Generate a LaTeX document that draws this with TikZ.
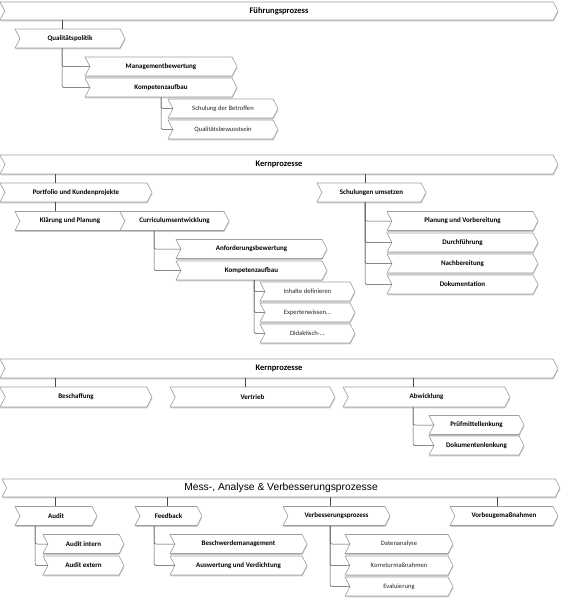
\documentclass[tikz,border=0pt]{standalone}
\usepackage{fontspec}
\setmainfont{Carlito}
\newfontfamily\arialfont{Liberation Sans}
\usetikzlibrary{shapes.symbols,shadows}

\tikzset{
  chev/.style={signal, signal from=west, signal to=east, signal pointer angle=125,
    draw=gray!75, fill=white, line width=0.6pt, inner sep=0pt, minimum height=19pt,
    font=\fontsize{7}{8}\selectfont\bfseries,
    drop shadow={shadow xshift=0.4pt, shadow yshift=-1.3pt, fill=gray!60, opacity=0.7}},
  chevlight/.style={chev, font=\fontsize{6.6}{8}\selectfont, text=black!85},
  chevbar/.style={chev, minimum width=558pt, minimum height=18pt,
    font=\fontsize{8.5}{10}\selectfont\bfseries},
  conn/.style={draw=black!70, line width=0.5pt, rounded corners=2pt},
}

\begin{document}
\begin{tikzpicture}[x=1pt, y=-1pt]
			\useasboundingbox (0,0) rectangle (563,600);
			
			%Fuehrungsprozess
			\node[chevbar] (fp) at (279,11) {Führungsprozess};
			\node[chev, minimum width=110pt] (qp) at (70,38.5) {Qualitätspolitik};
			\node[chev, minimum width=152pt] (mb) at (161,66.5) {Managementbewertung};
			\node[chev, minimum width=152pt] (ka1) at (161,87.5) {Kompetenzaufbau};
			\node[chevlight, minimum width=110pt] (sb) at (223,108.5) {Schulung der Betroffen};
			\node[chevlight, minimum width=110pt] (qb) at (223,129.5) {Qualitätsbewusstsein};
			
			\coordinate (qpx) at (62,0);
			\coordinate (ka1x) at (161,0);
			\draw[conn] (qpx |- fp.south) -- (qpx |- qp.north);
			\draw[conn] (qpx |- qp.south) |- (mb.west);
			\draw[conn] (qpx |- qp.south) |- (ka1.west);
			\draw[conn] (ka1x |- ka1.south) |- (sb.west);
			\draw[conn] (ka1x |- ka1.south) |- (qb.west);
			
			%Kernprozesse (1)
			\node[chevbar, minimum height=19pt] (kp1) at (279,164.5) {Kernprozesse};
			\node[chev, minimum width=152pt] (pk) at (76,192.5) {Portfolio und Kundenprojekte};
			\node[chev, minimum width=110pt] (kl) at (70,221) {Klärung und Planung};
			\node[chev, minimum width=109pt] (ce) at (174.5,221) {Curriculumsentwicklung};
			\node[chev, minimum width=151pt] (ab) at (251.5,249) {Anforderungsbewertung};
			\node[chev, minimum width=151pt] (ka2) at (251.5,270.5) {Kompetenzaufbau};
			\node[chevlight, minimum width=95pt] (id) at (307.5,291.5) {Inhalte definieren};
			\node[chevlight, minimum width=95pt] (ew) at (307.5,312.5) {Expertenwissen...};
			\node[chevlight, minimum width=95pt] (dk) at (307.5,333.5) {Didaktisch-...};
			\node[chev, minimum width=109pt] (su) at (371.5,192.5) {Schulungen umsetzen};
			\node[chev, minimum width=151pt] (pv) at (462.5,221) {Planung und Vorbereitung};
			\node[chev, minimum width=151pt] (df) at (462.5,242.5) {Durchführung};
			\node[chev, minimum width=151pt] (nb) at (462.5,263.5) {Nachbereitung};
			\node[chev, minimum width=151pt] (dm) at (462.5,284.5) {Dokumentation};
			
			\coordinate (pkx) at (55,0);
			\coordinate (cex) at (154,0);
			\coordinate (ka2x) at (254,0);
			\coordinate (sux) at (365,0);
			\draw[conn] (pkx |- kp1.south) -- (pkx |- pk.north);
			\draw[conn] (pkx |- pk.south) -- (pkx |- kl.north);
			\foreach \c in {ab, ka2}{
				\draw[conn] (cex |- ce.south) |- (\c.west);
			}
			\foreach \c in {id, ew, dk}{
				\draw[conn] (ka2x |- ka2.south) |- (\c.west);
			}
			\draw[conn] (sux |- kp1.south) -- (sux |- su.north);
			\foreach \c in {pv, df, nb, dm}{
				\draw[conn] (sux |- su.south) |- (\c.west);
			}
			
			%Kernprozesse (2)
			\node[chevbar, minimum height=19pt] (kp2) at (279,368.5) {Kernprozesse};
			\node[chev, minimum width=152pt, minimum height=20pt] (bs) at (76,397) {Beschaffung};
			\node[chev, minimum width=165pt, minimum height=20pt] (vt) at (252.5,397) {Vertrieb};
			\node[chev, minimum width=167pt, minimum height=20pt] (aw) at (426.5,397) {Abwicklung};
			\node[chev, minimum width=95pt] (pm) at (476.5,425) {Prüfmittellenkung};
			\node[chev, minimum width=95pt] (dl) at (476.5,445.5) {Dokumentenlenkung};
			
			\coordinate (bsx) at (55,0);
			\coordinate (vtx) at (245,0);
			\coordinate (awx) at (413,0);
			\draw[conn] (bsx |- kp2.south) -- (bsx |- bs.north);
			\draw[conn] (vtx |- kp2.south) -- (vtx |- vt.north);
			\draw[conn] (awx |- kp2.south) -- (awx |- aw.north);
			\draw[conn] (awx |- aw.south) |- (pm.west);
			\draw[conn] (awx |- aw.south) |- (dl.west);
			
			%Mess-, Analyse und Verbesserung
			\node[chevbar, font=\arialfont\fontsize{10.3}{12}\selectfont] (mav) at (281,488) {Mess-, Analyse \& Verbesserungsprozesse};
			\node[chev, minimum width=82pt] (au) at (56,516) {Audit};
			\node[chev, minimum width=67pt] (fb) at (168.5,516) {Feedback};
			\node[chev, minimum width=107pt] (vp) at (336.5,516) {Verbesserungsprozess};
			\node[chev, minimum width=108pt] (vm) at (504,516) {Vorbeugemaßnahmen};
			\node[chev, minimum width=81pt] (ai) at (83.5,544) {Audit intern};
			\node[chev, minimum width=81pt] (ae) at (83.5,565.5) {Audit extern};
			\node[chev, minimum width=137pt] (bw) at (238.5,544) {Beschwerdemanagement};
			\node[chev, minimum width=137pt] (av) at (238.5,565.5) {Auswertung und Verdichtung};
			\node[chevlight, minimum width=108pt] (da) at (399,544) {Datenanalyse};
			\node[chevlight, minimum width=108pt] (km) at (399,565.5) {Korreturmaßnahmen};
			\node[chevlight, minimum width=108pt] (ev) at (399,586.5) {Evaluierung};
			
			\coordinate (aux) at (55,0);
			\coordinate (fbx) at (167,0);
			\coordinate (vpx) at (330,0);
			\coordinate (vmx) at (497,0);
			\coordinate (audx) at (35,0);
			\coordinate (feedx) at (154,0);
			\draw[conn] (aux |- mav.south) -- (aux |- au.north);
			\draw[conn] (fbx |- mav.south) -- (fbx |- fb.north);
			\draw[conn] (vpx |- mav.south) -- (vpx |- vp.north);
			\draw[conn] (vmx |- mav.south) -- (vmx |- vm.north);
			\foreach \c in {ai, ae}{
				\draw[conn] (audx |- au.south) |- (\c.west);
			}
			\foreach \c in {bw, av}{
				\draw[conn] (feedx |- fb.south) |- (\c.west);
			}
			\foreach \c in {da, km, ev}{
				\draw[conn] (vpx |- vp.south) |- (\c.west);
			}
\end{tikzpicture}
\end{document}
